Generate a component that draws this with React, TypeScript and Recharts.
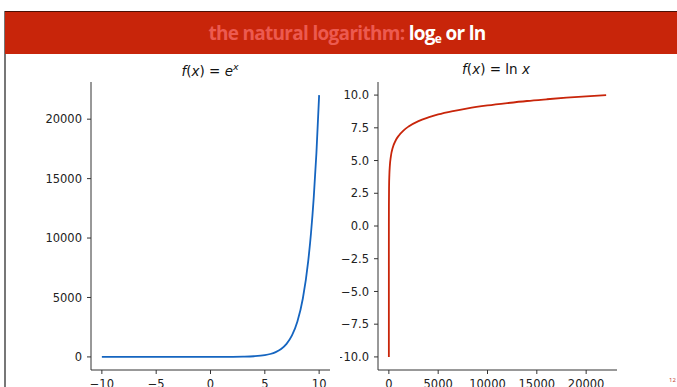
import React from 'react';
import { LineChart, Line, XAxis, YAxis } from 'recharts';

const expX = [-10, -8, -6, -4, -2, 0, 1, 2, 3, 4, 5, 5.5, 6, 6.5, 7, 7.5, 8, 8.5, 9, 9.25, 9.5, 9.75, 10];
const expY = [0, 0, 0, 0, 0, 1, 3, 7, 20, 55, 148, 245, 403, 665, 1097, 1808, 2981, 4915, 8103, 10405, 13360, 17154, 22026];

const lnX = [0.0000454, 0.001, 0.05, 1, 5, 20, 50, 100, 200, 400, 700, 1000, 1500, 2000, 3000, 4000, 5000, 6500, 8000, 10000, 12000, 14000, 16000, 18000, 20000, 22026];
const lnY = [-10, -6.9, -3.0, 0, 1.6, 3.0, 3.9, 4.6, 5.3, 6.0, 6.55, 6.9, 7.31, 7.6, 8.01, 8.29, 8.52, 8.78, 8.99, 9.21, 9.39, 9.55, 9.68, 9.8, 9.9, 10];

const expXTicks = [-10, -5, 0, 5, 10];
const expYTicks = [0, 5000, 10000, 15000, 20000];
const lnXTicks = [0, 5000, 10000, 15000, 20000];
const lnYTicks = [-10, -7.5, -5, -2.5, 0, 2.5, 5, 7.5, 10];

const expData = expX.map((x, i) => ({ x, y: expY[i] }));
const lnData = lnX.map((x, i) => ({ x, y: lnY[i] }));

const minus = (s: string) => s.replace('-', '\u2212');
const fmtInt = (v: number) => minus(String(v));
const fmt1 = (v: number) => minus(v.toFixed(1));

const FONT = "'DejaVu Sans', sans-serif";
const tickStyle = { fontSize: 11.5, fill: '#222', fontFamily: FONT };
const axisLine = { stroke: '#333', strokeWidth: 1 };
const tickLine = { stroke: '#333', strokeWidth: 1 };

export default function App() {
  return (
    <div style={{ position: 'absolute', left: 0, top: 0, width: 677, height: 387, overflow: 'hidden', background: '#fff' }}>
      <div style={{ position: 'absolute', left: 4, top: 11, width: 2, height: 376, background: '#777' }} />
      <div style={{ position: 'absolute', left: 5, top: 11, width: 672, height: 43, background: '#c8250a', borderTop: '1px solid #4a1005', boxSizing: 'border-box', display: 'flex', alignItems: 'center', justifyContent: 'center' }}>
        <div style={{ fontFamily: "'Open Sans', sans-serif", fontWeight: 700, fontSize: 19, letterSpacing: -0.7, marginLeft: 12 }}>
          <span style={{ color: '#ec5a50' }}>the natural logarithm: </span>
          <span style={{ color: '#fff' }}>log<sub style={{ fontSize: 12, verticalAlign: -3 }}>e</sub> or ln</span>
        </div>
      </div>

      <div style={{ position: 'absolute', left: 0, top: 61, width: 420, textAlign: 'center', fontFamily: FONT, fontSize: 13.5, color: '#111' }}>
        <i>f</i>(<i>x</i>) = <i>e</i><sup style={{ fontSize: 9.5 }}><i>x</i></sup>
      </div>
      <div style={{ position: 'absolute', left: 286, top: 61, width: 420, textAlign: 'center', fontFamily: FONT, fontSize: 13.5, color: '#111' }}>
        <i>f</i>(<i>x</i>) = ln <i>x</i>
      </div>

      <div style={{ position: 'absolute', left: 0, top: 0 }}>
        <LineChart width={350} height={420} data={expData} margin={{ top: 82, right: 20, bottom: 20, left: 0 }}>
          <XAxis dataKey="x" type="number" domain={[-11, 11]} ticks={expXTicks} tickFormatter={fmtInt}
            tick={tickStyle} axisLine={axisLine} tickLine={tickLine} tickSize={4} tickMargin={6} height={30} allowDataOverflow />
          <YAxis type="number" domain={[-1101.3, 23127.6]} ticks={expYTicks} tickFormatter={fmtInt}
            tick={tickStyle} axisLine={axisLine} tickLine={tickLine} tickSize={4} tickMargin={5} width={91} allowDataOverflow />
          <Line dataKey="y" type="monotone" stroke="#1565c0" strokeWidth={1.8} dot={false} isAnimationActive={false} />
        </LineChart>
      </div>

      <div style={{ position: 'absolute', left: 340, top: 0 }}>
        <LineChart width={297} height={420} data={lnData} margin={{ top: 82, right: 20, bottom: 20, left: 0 }}>
          <XAxis dataKey="x" type="number" domain={[-1101.3, 23127.6]} ticks={lnXTicks} tickFormatter={fmtInt}
            tick={tickStyle} axisLine={axisLine} tickLine={tickLine} tickSize={4} tickMargin={6} height={30} allowDataOverflow />
          <YAxis type="number" domain={[-11, 11]} ticks={lnYTicks} tickFormatter={fmt1}
            tick={tickStyle} axisLine={axisLine} tickLine={tickLine} tickSize={4} tickMargin={5} width={38} allowDataOverflow />
          <Line dataKey="y" type="monotone" stroke="#c8250a" strokeWidth={1.8} dot={false} isAnimationActive={false} />
        </LineChart>
      </div>

      <div style={{ position: 'absolute', left: 669, top: 376, fontFamily: "'Open Sans', sans-serif", fontSize: 6, color: '#c0392b' }}>12</div>
    </div>
  );
}
